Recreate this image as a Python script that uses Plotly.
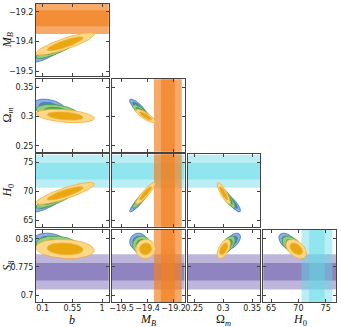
import numpy as np
import plotly.graph_objects as go
from plotly.subplots import make_subplots

# parameter order: rows show PARAMS[1:], columns show PARAMS[:-1]
PARAMS = ["b", "M_B", "Om", "H0", "S8"]
LABELS = {
    "b": "<i>b</i>",
    "M_B": "<i>M</i><sub><i>B</i></sub>",
    "Om": "Ω<sub><i>m</i></sub>",
    "H0": "<i>H</i><sub>0</sub>",
    "S8": "<i>S</i><sub>8</sub>",
}

# posterior means / standard deviations
BLUE_MEAN = [0.20, -19.405, 0.316, 68.0, 0.843]
BLUE_STD = [0.10, 0.020, 0.0057, 0.65, 0.009]
GREEN_MEAN = [0.32, -19.385, 0.308, 68.8, 0.834]
GREEN_STD = [0.13, 0.021, 0.0052, 0.72, 0.0095]
YELLOW_MEAN = [0.44, -19.362, 0.301, 69.6, 0.823]
YELLOW_STD = [0.18, 0.023, 0.0047, 0.77, 0.0105]

# pairwise correlations
CORR = {
    ("b", "M_B"): 0.85, ("b", "Om"): -0.35, ("b", "H0"): 0.85, ("b", "S8"): -0.15,
    ("M_B", "Om"): -0.82, ("M_B", "H0"): 0.9, ("M_B", "S8"): 0.05,
    ("Om", "H0"): -0.85, ("Om", "S8"): 0.55, ("H0", "S8"): -0.45,
}

# external priors shown as bands (mean, sigma)
BAND_MEAN = {"M_B": -19.233, "H0": 73.4, "S8": 0.762}
BAND_STD = {"M_B": 0.040, "H0": 1.42, "S8": 0.0235}

X_RANGE = {"b": [0, 1.1], "M_B": [-19.557, -19.137], "Om": [0.2385, 0.364], "H0": [63.54, 76.9]}
Y_RANGE = {"M_B": [-19.527, -19.161], "Om": [0.240, 0.364], "H0": [63.84, 76.33], "S8": [0.6814, 0.8747]}

TICKS = {
    "b": ([0.1, 0.55, 1], ["0.1", "0.55", "1"]),
    "M_B": ([-19.5, -19.35, -19.2], ["\u221219.5", "\u221219.4", "\u221219.2"]),
    "Om": ([0.25, 0.3, 0.35], ["0.25", "0.3", "0.35"]),
    "H0": ([65, 70, 75], ["65", "70", "75"]),
    "S8": ([0.7, 0.775, 0.85], ["0.7", "0.775", "0.85"]),
}

RUNS = [
    (BLUE_MEAN, BLUE_STD, "#88B1E1", "#4F86C9", "#3C72B8"),
    (GREEN_MEAN, GREEN_STD, "#95CC85", "#5DAA4C", "#4A9A3A"),
    (YELLOW_MEAN, YELLOW_STD, "#FDD889", "#E9A80F", "#F1AE38"),
]

BAND_COLOURS = {
    "M_B": "rgba(242,128,33,0.68)",
    "H0": "rgba(97,217,231,0.45)",
    "S8": "rgba(38,12,132,0.30)",
}


def ellipse(mx, my, sx, sy, rho, level):
    r = np.sqrt(-2 * np.log(1 - level))
    t = np.linspace(0, 2 * np.pi, 140)
    x = mx + r * sx * np.cos(t)
    y = my + r * sy * (rho * np.cos(t) + np.sqrt(1 - rho ** 2) * np.sin(t))
    return x, y


specs = [[{} if c <= r else None for c in range(4)] for r in range(4)]
fig = make_subplots(rows=4, cols=4, specs=specs,
                    horizontal_spacing=0.01, vertical_spacing=0.009)

for r in range(4):
    for c in range(r + 1):
        xp, yp = PARAMS[c], PARAMS[r + 1]
        i, j = PARAMS.index(xp), PARAMS.index(yp)

        # 68/95% contours
        rho = CORR[(xp, yp)]
        for mean, std, outer, inner, edge in RUNS:
            for level, fill in ((0.95, outer), (0.68, inner)):
                ex, ey = ellipse(mean[i], mean[j], std[i], std[j], rho, level)
                fig.add_trace(go.Scatter(
                    x=ex, y=ey, mode="lines", fill="toself", fillcolor=fill,
                    line=dict(color=edge, width=0.8), hoverinfo="skip", showlegend=False,
                ), row=r + 1, col=c + 1)

        # prior bands, underneath the contours
        if yp in BAND_MEAN:
            m, s = BAND_MEAN[yp], BAND_STD[yp]
            for k in (2, 1):
                fig.add_hrect(y0=m - k * s, y1=m + k * s, row=r + 1, col=c + 1,
                              fillcolor=BAND_COLOURS[yp], line_width=0, layer="below",
                              exclude_empty_subplots=False)
        if xp in BAND_MEAN:
            m, s = BAND_MEAN[xp], BAND_STD[xp]
            for k in (2, 1):
                fig.add_vrect(x0=m - k * s, x1=m + k * s, row=r + 1, col=c + 1,
                              fillcolor=BAND_COLOURS[xp], line_width=0, layer="below",
                              exclude_empty_subplots=False)

        tv, tt = TICKS[xp]
        fig.update_xaxes(range=X_RANGE[xp], tickvals=tv, ticktext=tt,
                         showticklabels=(r == 3), row=r + 1, col=c + 1)
        tv, tt = TICKS[yp]
        fig.update_yaxes(range=Y_RANGE[yp], tickvals=tv, ticktext=tt,
                         showticklabels=(c == 0), row=r + 1, col=c + 1)

axis_style = dict(showline=True, linecolor="#444", linewidth=1, mirror="allticks",
                  ticks="inside", ticklen=3, tickcolor="#444", showgrid=False,
                  zeroline=False, automargin=False, tickangle=0,
                  tickfont=dict(size=8, color="#222"))
fig.update_xaxes(ticklabelstandoff=-2, **axis_style)
fig.update_yaxes(**axis_style)

# axis labels
W, H = 300.0, 298.0
for c in range(4):
    fig.add_annotation(text=LABELS[PARAMS[c]], xref="paper", yref="paper",
                       x=(c * 75.75 + 36.4) / W, y=-17.5 / H, showarrow=False,
                       xanchor="center", yanchor="middle",
                       font=dict(family="Liberation Serif", size=12, color="#111"))
for r in range(4):
    fig.add_annotation(text=LABELS[PARAMS[r + 1]], xref="paper", yref="paper",
                       x=-28 / W, y=1 - (r * 75.17 + 36.25) / H, showarrow=False,
                       textangle=-90, xanchor="center", yanchor="middle",
                       font=dict(family="Liberation Serif", size=12, color="#111"))

fig.update_layout(
    width=341, height=327,
    margin=dict(l=36, r=5, t=4, b=25),
    paper_bgcolor="white", plot_bgcolor="white",
    font=dict(family="DejaVu Sans", color="#222"),
    showlegend=False,
)

fig.write_html("out.html", config={"displayModeBar": False},
               post_script="document.body.style.margin='0';")
